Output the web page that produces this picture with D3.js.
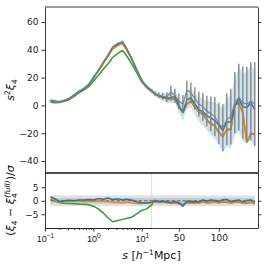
<!DOCTYPE html>
<html>
<head>
<meta charset="utf-8">
<script src="https://cdn.jsdelivr.net/npm/d3@7"></script>
<style>
  body { margin: 0; background: #fff; }
  svg { display: block; font-family: "DejaVu Sans", sans-serif; }
</style>
</head>
<body>
<script>
// separation grid: log spaced below the break, linear above it
const sLog = [0.13, 0.16, 0.2, 0.25, 0.32, 0.4, 0.5, 0.63, 0.8, 1.0, 1.26, 1.6, 2.0, 2.5, 3.2, 4.0, 5.0, 6.3, 8.0, 10, 12.6, 16];
const sLin = [20, 25, 30, 35, 40, 45, 50, 55, 60, 65, 70, 75, 80, 85, 90, 95, 100, 105, 110, 115, 120, 125, 130, 135, 140, 145];
const sVals = sLog.concat(sLin);

// top panel: s^2 xi_4
const blueTop = [3.5, 3, 2.5, 3.5, 5, 7.5, 10, 12, 15, 20, 25, 31, 36, 42, 44, 45.7, 40, 33, 25, 18, 13.5, 10.5,
  8.5, 7, 6, 5.3, 5.5, 6.5, 0, -5, 4, 5.5, 1, -3, -4.5, -7.5, -9, -11, -14, -18, -12, -12, -1, 4.8, -1, -1.5, 2, -3];
const orangeTop = [3, 2.8, 2.5, 3.3, 5, 7.3, 9.8, 11.8, 14.7, 19.5, 24.5, 30, 35, 40.5, 43, 44.3, 39, 32.5, 24.5, 17.8, 13.3, 10.3,
  8.3, 6.8, 5.8, 4.9, 4.3, 5, -1, -5, 1, 3.6, -1, -4.5, -6, -10, -13, -14, -19, -22, -17, -17, 1, 2, -5, -26, -20, -20.4];
const greenTop = [2.2, 2, 2.2, 3, 4.3, 6.5, 9, 11, 13.5, 17.5, 21.5, 26, 30, 34.5, 37.5, 39.5, 35, 29.5, 23, 16.8, 12.8, 10,
  8.2, 6.7, 5.7, 4.8, 4.1, 4.8, -1.2, -5.2, 0.7, 3.3, -1.3, -4.8, -6.4, -10.4, -13.4, -14.5, -19.5, -22.5, -17.5, -17.5, 0.5, 1.5, -5.5, -26.5, -20.5, -21];
const greyTop = [3.3, 3, 2.6, 3.5, 5, 7.5, 10, 12, 15, 20, 25, 31, 36, 42, 44.5, 45.5, 40, 33, 25, 18, 13.5, 10.5,
  8.5, 7.3, 6.5, 6, 9.6, 7, 3, 1, 11, 9, 5, 1, -1, -4, -6, -8, -13, -16, -10, -8, 2, 6, 2, 1, 3, 1];
const greyErr = [0.4, 0.4, 0.4, 0.4, 0.4, 0.4, 0.4, 0.4, 0.4, 0.5, 0.5, 0.5, 0.6, 0.6, 0.7, 0.7, 0.7, 0.8, 0.8, 0.9, 1, 1.2,
  1.5, 2, 2.5, 3.5, 4.5, 5, 5.5, 6.5, 7, 7.5, 8, 9, 10, 11, 12.5, 14, 15, 17, 18.5, 20, 22, 24, 26, 27, 28, 30];
const blueBand = [1.8, 1.5, 1.2, 1.2, 1.2, 1.2, 1.2, 1.2, 1.2, 1.3, 1.3, 1.4, 1.4, 1.5, 1.5, 1.5, 1.5, 1.5, 1.5, 1.5, 1.6, 1.8,
  2, 2.4, 2.8, 3.3, 4, 4.5, 5, 5.8, 6.5, 7, 7.5, 8.5, 9.5, 10.5, 12, 13, 14.5, 16, 17.5, 19, 21, 23, 24.5, 25.5, 27, 28];

// lower panel: (xi_4 - xi_4^full) / sigma
const blueRes = [1.5, 0.8, -0.3, 0, 0.2, 0, 0.3, 0.3, 0.5, 0.3, 0.8, 0.6, 1.0, 0.5, 0.7, 0.3, 0.6, 0.2, -0.5, -0.7, -0.8, -0.5,
  0, -0.3, -0.2, -0.4, -0.6, -0.3, -0.8, -2, -0.2, -0.4, -0.3, -0.4, 0.3, -0.2, 0.3, 0.1, -0.3, 0.4, 0.5, -0.3, 0, 0.3, -0.5, 0.1, 0.3, -0.5];
const orangeRes = [0.8, 0.3, -0.5, -0.3, 0, -0.2, 0, -0.3, -0.2, -0.3, 0, -0.3, -0.2, -0.6, -0.6, -0.8, -0.5, -0.8, -1.0, -1.0, -0.9, -0.7,
  -0.5, -0.6, -0.5, -0.7, -1, -0.8, -1.1, -1.5, -0.6, -0.9, -0.8, -0.7, -0.4, -0.7, -0.6, -0.5, -0.7, -0.3, -0.5, -0.8, -0.5, -0.4, -0.8, -0.8, -0.5, -1.2];
const greenRes = [0.5, 0, -0.7, -0.9, -1.0, -1.1, -1.2, -1.3, -1.5, -2.0, -3.0, -4.5, -6.3, -7.8, -7.3, -6.9, -6.5, -6.0, -4.8, -3.6, -3.0, -1.5,
  0.2, -0.5, -0.4, -0.6, -0.8, -0.7, -1, -1.4, -0.6, -0.8, -0.7, -0.7, -0.5, -0.7, -0.6, -0.5, -0.7, -0.4, -0.5, -0.8, -0.5, -0.5, -0.8, -0.8, -0.6, -1.1];

const yTopTicks = [-40, -20, 0, 20, 40, 60];
const yResTicks = [-5, 0, 5];
const xLogTicks = [0.1, 1, 10];
const xLogMinor = [0.2, 0.3, 0.4, 0.5, 0.6, 0.7, 0.8, 0.9, 2, 3, 4, 5, 6, 7, 8, 9];
const xLinTicks = [50, 100];

const W = 266, H = 266;
const left = 45, right = 258, brk = 151.7;
const topY0 = 7, topY1 = 173, resY1 = 228;

const svg = d3.select("body").append("svg")
  .attr("width", W).attr("height", H);

// broken x axis: log part then linear part
const xLog = d3.scaleLog().domain([0.1, 16]).range([left, brk]);
const xLin = d3.scaleLinear().domain([16, 149]).range([brk, right]);
const x = s => s <= 16 ? xLog(s) : xLin(s);

const yTop = d3.scaleLinear().domain([-48.6, 70.8]).range([topY1, topY0]);
const yRes = d3.scaleLinear().domain([-10.1, 10.3]).range([resY1, topY1]);

const pts = vals => sVals.map((s, i) => ({s: s, v: vals[i], i: i}));

const C = {blue: "#1f77b4", orange: "#ff7f0e", green: "#2ca02c", grey: "#7f7f7f"};

svg.append("clipPath").attr("id", "clipTop").append("rect")
  .attr("x", left).attr("y", topY0).attr("width", right - left).attr("height", topY1 - topY0);
svg.append("clipPath").attr("id", "clipRes").append("rect")
  .attr("x", left).attr("y", topY1).attr("width", right - left).attr("height", resY1 - topY1);

// ---- top panel ----
const gTop = svg.append("g").attr("clip-path", "url(#clipTop)");
const lineTop = d3.line().x(d => x(d.s)).y(d => yTop(d.v));

gTop.append("path")
  .datum(pts(blueTop))
  .attr("fill", C.blue).attr("fill-opacity", 0.22)
  .attr("d", d3.area().x(d => x(d.s))
    .y0(d => yTop(d.v - blueBand[d.i]))
    .y1(d => yTop(d.v + blueBand[d.i])));

[["green", greenTop], ["orange", orangeTop], ["blue", blueTop]].forEach(([c, vals]) => {
  gTop.append("path").datum(pts(vals))
    .attr("fill", "none").attr("stroke", C[c]).attr("stroke-width", 1.5)
    .attr("stroke-linejoin", "round")
    .attr("d", lineTop);
});

gTop.selectAll(".err").data(pts(greyTop)).enter().append("line")
  .attr("x1", d => x(d.s)).attr("x2", d => x(d.s))
  .attr("y1", d => yTop(d.v - greyErr[d.i]))
  .attr("y2", d => yTop(d.v + greyErr[d.i]))
  .attr("stroke", C.grey).attr("stroke-width", 1.3);

gTop.append("path").datum(pts(greyTop))
  .attr("fill", "none").attr("stroke", C.grey).attr("stroke-width", 1.1)
  .attr("d", lineTop);

// ---- lower panel ----
const gRes = svg.append("g").attr("clip-path", "url(#clipRes)");
const sFirst = sVals[0], sLast = sVals[sVals.length - 1];

[[2, "#dadada"], [1, "#c2c2c2"]].forEach(([h, col]) => {
  gRes.append("rect")
    .attr("x", x(sFirst)).attr("width", x(sLast) - x(sFirst))
    .attr("y", yRes(h)).attr("height", yRes(-h) - yRes(h))
    .attr("fill", col).attr("fill-opacity", 0.8);
});

gRes.append("line")
  .attr("x1", brk).attr("x2", brk).attr("y1", topY1).attr("y2", resY1)
  .attr("stroke", "#d0d0d0").attr("stroke-width", 0.8);

gRes.append("line")
  .attr("x1", x(sFirst)).attr("x2", x(sLast))
  .attr("y1", yRes(0)).attr("y2", yRes(0))
  .attr("stroke", "#666").attr("stroke-width", 1).attr("stroke-dasharray", "3.5,2");

const lineRes = d3.line().x(d => x(d.s)).y(d => yRes(d.v));
[["green", greenRes], ["orange", orangeRes], ["blue", blueRes]].forEach(([c, vals]) => {
  gRes.append("path").datum(pts(vals))
    .attr("fill", "none").attr("stroke", C[c]).attr("stroke-width", 1.5)
    .attr("stroke-linejoin", "round")
    .attr("d", lineRes);
});

// ---- axes ----
const minus = d => d < 0 ? "\u2212" + Math.abs(d) : String(d);
const styleAxis = g => {
  g.selectAll("path.domain").attr("stroke", "#222").attr("stroke-width", 0.9);
  g.selectAll(".tick line").attr("stroke", "#222").attr("stroke-width", 0.9);
  g.selectAll(".tick text").attr("fill", "#222").style("font-size", "9px")
    .style("font-family", "DejaVu Sans, sans-serif");
};

svg.append("g").attr("transform", `translate(${left},0)`)
  .call(d3.axisLeft(yTop).tickValues(yTopTicks).tickFormat(minus).tickSize(3.5).tickPadding(3).tickSizeOuter(0))
  .call(styleAxis);
svg.append("g").attr("transform", `translate(${right},0)`)
  .call(d3.axisRight(yTop).tickValues(yTopTicks).tickFormat("").tickSize(3.5).tickSizeOuter(0))
  .call(styleAxis);
svg.append("g").attr("transform", `translate(${left},0)`)
  .call(d3.axisLeft(yRes).tickValues(yResTicks).tickFormat(minus).tickSize(3.5).tickPadding(3).tickSizeOuter(0))
  .call(styleAxis);
svg.append("g").attr("transform", `translate(${right},0)`)
  .call(d3.axisRight(yRes).tickValues(yResTicks).tickFormat("").tickSize(3.5).tickSizeOuter(0))
  .call(styleAxis);

// top spine and panel separator
svg.append("line").attr("x1", left).attr("x2", right).attr("y1", topY0).attr("y2", topY0)
  .attr("stroke", "#222").attr("stroke-width", 0.9);
svg.append("line").attr("x1", left).attr("x2", right).attr("y1", topY1).attr("y2", topY1)
  .attr("stroke", "#111").attr("stroke-width", 1.6);

// bottom x axis (log part + linear part)
const gxLog = svg.append("g").attr("transform", `translate(0,${resY1})`)
  .call(d3.axisBottom(xLog).tickValues(xLogTicks).tickFormat("").tickSize(3.5).tickPadding(3).tickSizeOuter(0))
  .call(styleAxis);
gxLog.selectAll(".tick text").remove();
gxLog.selectAll(".tick").append("text")
  .attr("y", 14).attr("text-anchor", "middle").attr("fill", "#222")
  .style("font-size", "9px")
  .each(function(d) {
    const t = d3.select(this);
    t.append("tspan").text("10");
    t.append("tspan").attr("dy", -4).style("font-size", "6.5px").text(minus(Math.round(Math.log10(d))));
  });
svg.append("g").attr("transform", `translate(0,${resY1})`)
  .call(d3.axisBottom(xLog).tickValues(xLogMinor).tickFormat("").tickSize(2).tickSizeOuter(0))
  .call(styleAxis);
svg.append("g").attr("transform", `translate(0,${resY1})`)
  .call(d3.axisBottom(xLin).tickValues(xLinTicks).tickSize(3.5).tickPadding(3).tickSizeOuter(0))
  .call(styleAxis);

// ---- labels ----
const topLab = svg.append("text")
  .attr("transform", `translate(14,${(topY0 + topY1) / 2}) rotate(-90)`)
  .attr("text-anchor", "middle").style("font-size", "11px").attr("fill", "#111");
topLab.append("tspan").style("font-style", "italic").text("s");
topLab.append("tspan").attr("dy", -4).style("font-size", "7.5px").text("2");
topLab.append("tspan").attr("dy", 4).style("font-style", "italic").text("ξ");
topLab.append("tspan").attr("dy", 2.5).style("font-size", "7.5px").text("4");

const resLab = svg.append("text")
  .attr("transform", `translate(14,${(topY1 + resY1) / 2}) rotate(-90)`)
  .attr("text-anchor", "middle").style("font-size", "11px").attr("fill", "#111");
resLab.append("tspan").text("(");
resLab.append("tspan").style("font-style", "italic").text("ξ");
resLab.append("tspan").attr("dy", 2.5).style("font-size", "7.5px").text("4");
resLab.append("tspan").attr("dy", -2.5).text(" \u2212 ");
resLab.append("tspan").style("font-style", "italic").text("ξ");
resLab.append("tspan").attr("dy", 2.5).style("font-size", "7.5px").text("4");
resLab.append("tspan").attr("dy", -7).attr("dx", -4.5).style("font-size", "7.5px").style("font-style", "italic").text("(full)");
resLab.append("tspan").attr("dy", 4.5).text(")/");
resLab.append("tspan").style("font-style", "italic").text("σ");

const xLab = svg.append("text")
  .attr("x", (left + right) / 2).attr("y", 259)
  .attr("text-anchor", "middle").style("font-size", "11px").attr("fill", "#111");
xLab.append("tspan").style("font-style", "italic").text("s");
xLab.append("tspan").text(" [");
xLab.append("tspan").style("font-style", "italic").text("h");
xLab.append("tspan").attr("dy", -4).style("font-size", "7.5px").text("\u22121");
xLab.append("tspan").attr("dy", 4).text("Mpc]");
</script>
</body>
</html>
